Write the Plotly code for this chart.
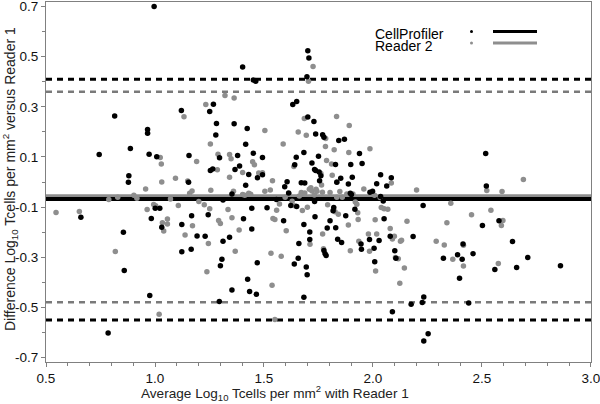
import plotly.graph_objects as go

# CellProfiler vs Reader 1 (black)
cp_x = [0.996, 0.815, 0.744, 0.880, 0.878, 0.887, 0.966, 0.966, 0.973, 1.008, 0.660, 0.855, 0.859, 0.785, 0.976,
        0.983, 1.001, 1.022, 1.031, 1.121, 1.123, 1.123, 1.156, 1.154, 1.168, 1.166, 1.193, 1.230, 1.244, 1.251,
        1.268, 1.254, 1.265, 1.282, 1.279, 1.296, 1.312, 1.312, 1.307, 1.300, 1.295, 1.342, 1.353, 1.353, 1.363,
        1.367, 1.379, 1.388, 1.402, 1.406, 1.416, 1.416, 1.423, 1.430, 1.425, 1.434, 1.444, 1.444, 1.451, 1.462,
        1.451, 1.470, 1.469, 1.465, 1.493, 1.493, 1.514, 1.557, 1.590, 1.595, 1.606, 1.613, 1.623, 1.632, 1.650,
        1.641, 1.639, 1.648, 1.650, 1.660, 1.657, 1.671, 1.683, 1.683, 1.687, 1.683, 1.694, 1.698, 1.701, 1.706,
        1.697, 1.701, 1.710, 1.710, 1.720, 1.729, 1.732, 1.737, 1.732, 1.734, 1.737, 1.750, 1.753, 1.755, 1.761,
        1.769, 1.775, 1.775, 1.780, 1.785, 1.790, 1.803, 1.817, 1.820, 1.828, 1.829, 1.834, 1.838, 1.843, 1.852,
        1.856, 1.869, 1.875, 1.887, 1.896, 1.898, 1.901, 1.905, 1.917, 1.938, 1.945, 1.947, 1.950, 1.984, 1.986,
        1.998, 2.005, 2.008, 2.017, 2.028, 2.035, 2.035, 2.047, 2.051, 2.063, 2.079, 2.084, 2.089, 2.100, 2.105,
        2.175, 2.184, 2.230, 2.226, 2.233, 2.233, 2.253, 2.323, 2.388, 2.397, 2.409, 2.413, 2.439, 2.459, 2.502,
        2.517, 2.520, 2.559, 2.578, 2.640, 2.659, 2.710, 2.860]
cp_y = [0.700, 0.263, 0.110, 0.025, -0.001, 0.134, 0.209, 0.194, 0.111, 0.101, -0.141, -0.200, -0.353, -0.602, -0.453,
        -0.146, -0.105, -0.105, -0.180, 0.285, -0.170, -0.278, 0.106, -0.001, -0.135, -0.268, -0.215, -0.216, -0.131, 0.281,
        0.310, 0.046, 0.052, 0.233, 0.187, 0.097, -0.072, -0.236, -0.308, -0.334, -0.477, -0.220, -0.048, -0.431, 0.232,
        0.050, 0.106, 0.064, 0.459, -0.147, 0.151, -0.013, 0.213, 0.030, -0.388, -0.437, -0.105, -0.187, 0.407, 0.402,
        0.115, 0.017, -0.322, -0.448, 0.098, 0.029, -0.103, -0.070, -0.155, -0.019, 0.001, -0.044, -0.094, 0.309, 0.321,
        0.069, -0.327, 0.099, -0.098, -0.245, -0.304, -0.003, 0.118, -0.170, -0.004, -0.460, -0.339, -0.370, 0.524, 0.495,
        0.420, 0.259, -0.199, -0.229, 0.076, 0.241, 0.050, 0.046, -0.078, -0.139, 0.191, 0.103, 0.040, 0.005, 0.025,
        0.188, 0.179, -0.273, -0.286, -0.293, -0.183, -0.155, -0.115, -0.102, 0.070, -0.182, -0.001, -0.228, 0.166, 0.015,
        -0.241, 0.171, -0.135, -0.008, -0.045, 0.070, -0.050, 0.019, -0.109, 0.114, -0.247, -0.268, 0.074, -0.229, -0.041,
        -0.037, -0.264, -0.318, -0.007, -0.233, 0.029, -0.058, -0.076, -0.147, -0.016, -0.216, 0.017, -0.518, -0.274, -0.304,
        -0.488, -0.217, -0.094, -0.481, -0.459, -0.634, -0.605, -0.304, -0.290, -0.384, -0.308, -0.247, -0.483, -0.286, -0.174,
        0.114, -0.016, -0.349, -0.155, -0.237, -0.341, -0.301, -0.334]

# Reader 2 vs Reader 1 (grey)
r2_x = [0.546, 0.653, 0.788, 0.818, 0.829, 0.903, 0.917, 0.957, 0.964, 0.994, 1.003, 1.019, 1.024, 1.029, 1.031,
        1.034, 1.040, 1.057, 1.057, 1.071, 1.094, 1.107, 1.133, 1.138, 1.150, 1.159, 1.170, 1.172, 1.191, 1.201,
        1.226, 1.233, 1.238, 1.245, 1.251, 1.254, 1.256, 1.286, 1.289, 1.292, 1.300, 1.321, 1.335, 1.342, 1.342,
        1.349, 1.353, 1.360, 1.363, 1.368, 1.386, 1.402, 1.402, 1.412, 1.430, 1.439, 1.448, 1.456, 1.476, 1.493,
        1.504, 1.504, 1.529, 1.532, 1.537, 1.539, 1.541, 1.550, 1.558, 1.571, 1.579, 1.588, 1.597, 1.550, 1.602,
        1.615, 1.629, 1.637, 1.641, 1.657, 1.662, 1.671, 1.676, 1.685, 1.687, 1.694, 1.699, 1.704, 1.708, 1.711,
        1.715, 1.720, 1.725, 1.731, 1.739, 1.743, 1.761, 1.764, 1.768, 1.769, 1.773, 1.782, 1.783, 1.787, 1.792,
        1.803, 1.810, 1.813, 1.822, 1.826, 1.833, 1.834, 1.834, 1.841, 1.848, 1.859, 1.880, 1.887, 1.889, 1.891,
        1.896, 1.908, 1.919, 1.926, 1.930, 1.932, 1.935, 1.958, 1.979, 1.986, 1.984, 2.007, 2.010, 2.012, 2.017,
        2.033, 2.038, 2.051, 2.068, 2.079, 2.084, 2.089, 2.098, 2.103, 2.116, 2.123, 2.126, 2.131, 2.144, 2.156,
        2.200, 2.290, 2.327, 2.339, 2.357, 2.366, 2.415, 2.415, 2.452, 2.522, 2.541, 2.575, 2.589, 2.592, 2.596,
        2.690]
r2_y = [-0.122, -0.118, -0.070, -0.277, -0.061, -0.053, -0.065, -0.028, -0.110, -0.090, -0.095, -0.528, 0.098, 0.072, 0.000,
        -0.163, -0.195, -0.148, -0.168, -0.068, 0.015, -0.094, 0.260, -0.211, 0.004, -0.045, -0.036, -0.175, 0.082, -0.078,
        -0.091, 0.309, -0.358, -0.245, -0.107, 0.152, -0.033, 0.049, 0.111, -0.154, -0.166, 0.345, -0.110, 0.110, 0.019,
        0.093, -0.143, -0.037, 0.335, -0.276, -0.191, 0.038, -0.050, -0.053, -0.045, -0.049, 0.081, 0.069, 0.036, 0.037,
        0.205, -0.037, -0.032, -0.284, -0.412, 0.005, -0.146, -0.150, -0.113, -0.088, -0.296, 0.152, -0.061, -0.548, -0.194,
        -0.048, -0.077, 0.062, -0.095, 0.199, -0.056, -0.042, -0.114, 0.253, -0.044, 0.186, -0.101, 0.402, -0.029, -0.248,
        -0.023, -0.036, 0.461, -0.052, -0.029, -0.037, 0.034, -0.012, -0.041, -0.207, -0.266, 0.142, 0.174, 0.086, -0.091,
        -0.042, 0.072, 0.027, 0.129, -0.119, 0.261, 0.000, -0.061, -0.129, -0.038, -0.061, -0.048, -0.172, 0.118, 0.225,
        -0.274, -0.048, -0.080, -0.089, -0.123, -0.150, -0.236, -0.028, -0.207, 0.133, -0.276, -0.053, -0.151, -0.355, -0.207,
        -0.062, -0.102, -0.107, -0.109, -0.185, -0.004, -0.227, -0.216, -0.301, -0.306, -0.404, -0.236, -0.232, -0.343, -0.157,
        -0.032, -0.236, -0.251, -0.163, -0.085, -0.308, -0.252, -0.335, -0.131, -0.034, -0.113, -0.325, -0.174, -0.038, -0.154,
        0.010]

# Bland-Altman summary lines: mean, upper and lower limits of agreement
cp_stats = {"mean": -0.068, "upper": 0.41, "lower": -0.55}
r2_stats = {"mean": -0.057, "upper": 0.36, "lower": -0.48}

x_ticks = [0.5, 1.0, 1.5, 2.0, 2.5, 3.0]
y_ticks = [0.7, 0.5, 0.3, 0.1, -0.1, -0.3, -0.5, -0.7]

BLACK = "#000000"
GREY = "#8e8e8e"
GREY_LINE = "#7a7a7a"
FONT = "Liberation Sans, Arial, sans-serif"

# plot area in pixels (figure 600x404)
PL, PR, PT, PB = 46, 591, 2, 362

fig = go.Figure()

fig.add_trace(go.Scatter(x=r2_x, y=r2_y, mode="markers", name="Reader 2",
                         marker=dict(color=GREY, size=5.5, line=dict(width=0))))
fig.add_trace(go.Scatter(x=cp_x, y=cp_y, mode="markers", name="CellProfiler",
                         marker=dict(color=BLACK, size=5.5, line=dict(width=0))))

# horizontal reference lines
def hline(y, color, width, dash):
    fig.add_shape(type="line", xref="paper", x0=0, x1=1, yref="y", y0=y, y1=y,
                  line=dict(color=color, width=width, dash=dash), layer="below")

hline(r2_stats["upper"], GREY_LINE, 2.5, "6px,5px")
hline(r2_stats["lower"], GREY_LINE, 2.5, "6px,5px")
hline(cp_stats["upper"], BLACK, 3, "6px,5px")
hline(cp_stats["lower"], BLACK, 3, "6px,5px")
hline(r2_stats["mean"], GREY, 4, "solid")
hline(cp_stats["mean"], BLACK, 4, "solid")

def px2paper(px, py):
    return (px - PL) / float(PR - PL), 1 - (py - PT) / float(PB - PT)

# custom legend (text, marker, line)
for label, color, py_text, py_sym in [("CellProfiler", BLACK, 34, 31.5), ("Reader 2", GREY, 46, 43)]:
    tx, ty = px2paper(373, py_text)
    fig.add_annotation(x=tx, y=ty, xref="paper", yref="paper", text=label, showarrow=False,
                       xanchor="left", yanchor="middle", font=dict(family=FONT, size=14, color="#000"))
    mx0, my0 = px2paper(470, py_sym - 1.5)
    mx1, my1 = px2paper(473, py_sym + 1.5)
    fig.add_shape(type="circle", xref="paper", yref="paper", x0=mx0, x1=mx1, y0=my1, y1=my0,
                  fillcolor=color, line=dict(width=0))
    lx0, ly = px2paper(493, py_sym)
    lx1, _ = px2paper(537, py_sym)
    fig.add_shape(type="line", xref="paper", yref="paper", x0=lx0, x1=lx1, y0=ly, y1=ly,
                  line=dict(color=color, width=3))

# axis titles as annotations (off-centre like the original)
ax_x, ax_y = px2paper(275, 393)
fig.add_annotation(x=ax_x, y=ax_y, xref="paper", yref="paper",
                   text="Average Log<sub>10</sub> Tcells per mm<sup>2</sup> with Reader 1",
                   showarrow=False, xanchor="center", yanchor="middle",
                   font=dict(family=FONT, size=13.6, color="#222"))
ay_x, ay_y = px2paper(10, 179)
fig.add_annotation(x=ay_x, y=ay_y, xref="paper", yref="paper",
                   text="Difference Log<sub>10</sub> Tcells per mm<sup>2</sup> versus Reader 1",
                   showarrow=False, textangle=-90, xanchor="center", yanchor="middle",
                   font=dict(family=FONT, size=14, color="#222"))

axis_common = dict(showgrid=False, zeroline=False, showline=True, linecolor="#808080", linewidth=1,
                   mirror=True, ticks="outside", tickcolor="#808080", ticklen=4, tickwidth=1,
                   ticklabeloverflow="allow",
                   tickfont=dict(family=FONT, size=13.5, color="#111"),
                   minor=dict(ticks="outside", ticklen=3, tickcolor="#808080", dtick=0.1))

fig.update_xaxes(range=[0.5, 3.0001], tickvals=x_ticks, ticktext=[f"{v:.1f}" for v in x_ticks], **axis_common)
fig.update_yaxes(range=[-0.718, 0.718], tickvals=y_ticks, ticktext=[f"{v:.1f}" for v in y_ticks], **axis_common)

fig.update_layout(width=600, height=404, margin=dict(l=PL, r=600 - PR, t=PT, b=404 - PB, autoexpand=False),
                  plot_bgcolor="white", paper_bgcolor="white", showlegend=False,
                  font=dict(family=FONT, size=13))

fig.write_html("out.html", config={"displayModeBar": False, "staticPlot": True},
               post_script="document.body.style.margin='0px';document.body.style.overflow='hidden';")
